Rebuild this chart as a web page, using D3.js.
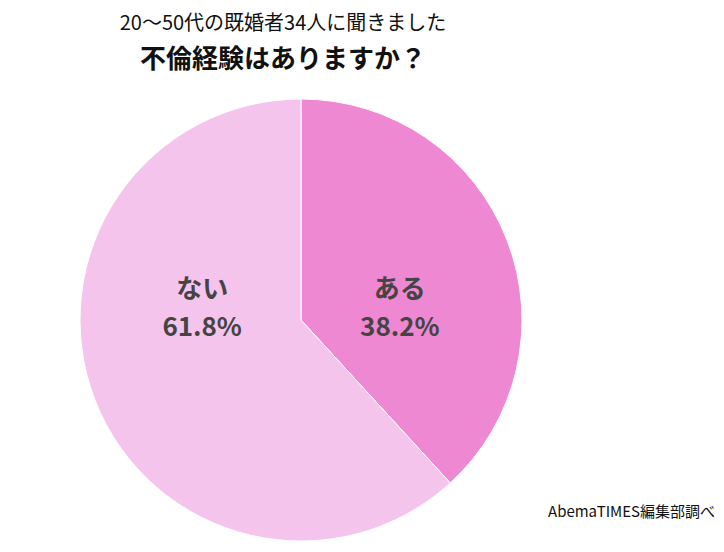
<!DOCTYPE html>
<html><head><meta charset="utf-8">
<script src="https://cdn.jsdelivr.net/npm/d3@7"></script>
<style>body{margin:0;background:#fff;font-family:"Noto Sans CJK JP","Noto Sans",sans-serif;}</style>
</head><body><div id="chart"></div>
<script>
var labels = ["ある", "ない"];
var values = [38.2, 61.8];
var colors = ["#ee88d2", "#f5c4ec"];

var svg = d3.select("#chart").append("svg").attr("width", 724).attr("height", 552);

svg.append("text").attr("x", 283).attr("y", 30).attr("text-anchor", "middle")
  .attr("font-size", 20).attr("fill", "#111").text("20～50代の既婚者34人に聞きました");
svg.append("text").attr("x", 283).attr("y", 68).attr("text-anchor", "middle")
  .attr("font-size", 26).attr("font-weight", "bold").attr("fill", "#111").text("不倫経験はありますか？");

var cx = 301, cy = 320, r = 221;
var pie = d3.pie().sort(null).value(d => d);
var arc = d3.arc().innerRadius(0).outerRadius(r);
var g = svg.append("g").attr("transform", `translate(${cx},${cy})`);
var arcs = pie(values);
g.selectAll("path").data(arcs).enter().append("path")
  .attr("d", arc).attr("fill", (d, i) => colors[i])
  .attr("stroke", "#fff").attr("stroke-width", 1);

var lab = d3.arc().innerRadius(r * 0.48).outerRadius(r * 0.48);
arcs.forEach(function(d, i) {
  var c = lab.centroid(d);
  var t = g.append("text").attr("text-anchor", "middle").attr("font-size", 26)
    .attr("font-weight", "bold").attr("fill", "#444");
  t.append("tspan").attr("x", c[0]).attr("y", -22).text(labels[i]);
  t.append("tspan").attr("x", c[0]).attr("y", 16).text(values[i].toFixed(1) + "%");
});

svg.append("text").attr("x", 715).attr("y", 517).attr("text-anchor", "end")
  .attr("font-size", 15).attr("fill", "#111").text("AbemaTIMES編集部調べ");
</script></body></html>
